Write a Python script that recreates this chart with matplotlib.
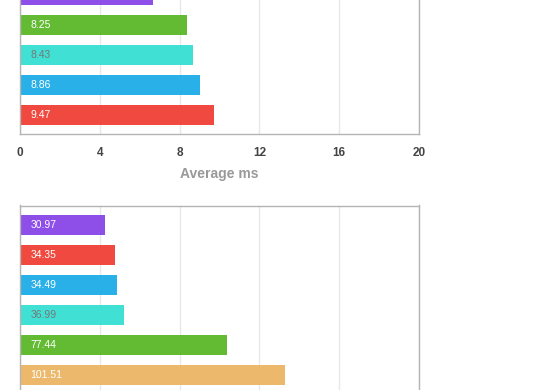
import matplotlib.pyplot as plt

plt.rcParams['font.family'] = ['Liberation Sans', 'DejaVu Sans']

# top chart (cut off at the top of the image)
top_labels = ['', '8.25', '8.43', '8.86', '9.47']
top_values = [6.67, 8.37, 8.67, 9.02, 9.72]
top_colors = ['#8e4ee8', '#63bb33', '#40e0d5', '#29b0e8', '#f04a40']
top_ticks = [0, 4, 8, 12, 16, 20]

# bottom chart (cut off at the bottom of the image)
bot_labels = ['30.97', '34.35', '34.49', '36.99', '77.44', '101.51']
bot_values = [31.9, 35.7, 36.5, 39.1, 77.8, 99.6]
bot_colors = ['#8e4ee8', '#f04a40', '#29b0e8', '#40e0d5', '#63bb33', '#ecb96c']
bot_ticks = [0, 30, 60, 90, 120, 150]

W, H = 560, 390
fig = plt.figure(figsize=(W / 100, H / 100), dpi=100)


def px_axes(left, top, right, bottom):
    return fig.add_axes([left / W, 1 - bottom / H, (right - left) / W, (bottom - top) / H])


def style(ax, ticks):
    ax.set_xlim(ticks[0], ticks[-1])
    ax.set_xticks(ticks)
    ax.set_yticks([])
    ax.grid(axis='x', color='#e8e8e8', linewidth=1)
    ax.set_axisbelow(True)
    for s in ax.spines.values():
        s.set_color('#b4b4b4')
        s.set_linewidth(1)
    ax.tick_params(axis='x', length=0, pad=9, labelsize=8.5, labelcolor='#444444')
    for t in ax.get_xticklabels():
        t.set_fontweight('bold')


def bars(ax, values, labels, colors):
    pos = list(range(len(values)))
    ax.barh(pos, values, height=0.667, color=colors)
    for i, lab in enumerate(labels):
        c = '#777777' if colors[i] == '#40e0d5' else 'white'
        ax.annotate(lab, xy=(0, i), xytext=(7.5, 0), textcoords='offset points',
                    va='center', ha='left', fontsize=7.5, color=c)


ax1 = px_axes(20, -25, 419, 134)
style(ax1, top_ticks)
bars(ax1, top_values, top_labels, top_colors)
ax1.set_ylim(4 + 19 / 30, -20 / 30)
ax1.set_xlabel('Average ms', fontsize=10, fontweight='bold', color='#999999', labelpad=6)

ax2 = px_axes(20, 205.5, 419, 395)
style(ax2, bot_ticks)
bars(ax2, bot_values, bot_labels, bot_colors)
ax2.set_ylim(5 + 20 / 30, -19.5 / 30)
# the lower chart's axis labels fall below the visible area
ax2.tick_params(axis='x', labelbottom=False)

fig.savefig('out.png', dpi=100)
